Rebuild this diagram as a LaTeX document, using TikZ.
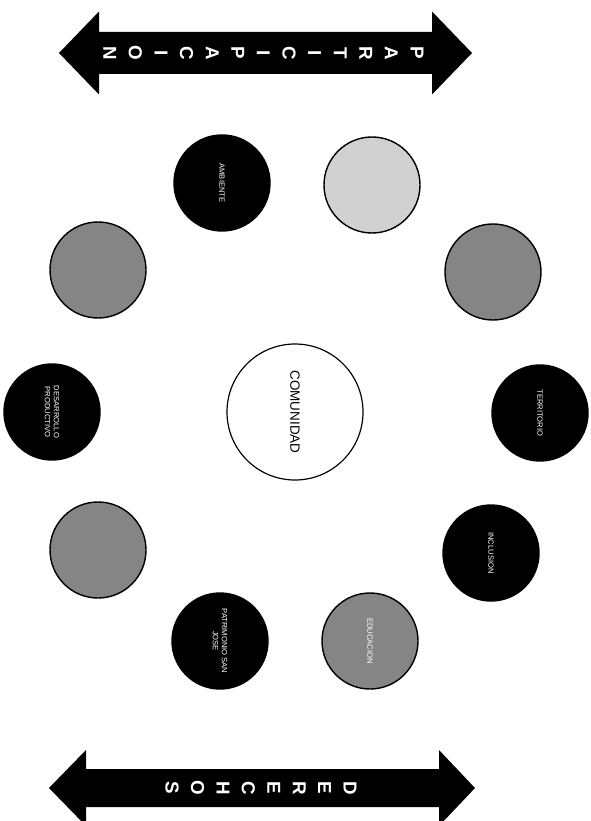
\documentclass[tikz,border=0pt]{standalone}
\usepackage{fontspec}
\setmainfont{Liberation Sans}
\usetikzlibrary{calc}
\definecolor{ink}{rgb}{0,0,0}
\definecolor{trama}{gray}{0.52}
\definecolor{tramaclara}{gray}{0.82}
\tikzset{
  letra/.style={text=white,font=\fontsize{16}{16}\selectfont\bfseries,rotate=-90,inner sep=0pt},
  tema/.style={circle,draw=ink,line width=1.2pt,minimum size=2.88cm,inner sep=0pt,text=white,align=center,rotate=-90,font=\fontsize{6.5}{7.5}\selectfont},
  temaoscuro/.style={tema,fill=ink},
  tematrama/.style={tema,fill=trama},
  temaclaro/.style={tema,fill=tramaclara},
  centro/.style={circle,draw=ink,line width=1pt,minimum size=4.08cm,inner sep=0pt,rotate=-90,font=\fontsize{11.5}{12}\selectfont}
}

\begin{document}
\begin{tikzpicture}[x=0.03cm,y=-0.03cm]
\useasboundingbox (0,0) rectangle (590,821);
% flecha de arriba
\fill[ink] (59,53) -- (99,11.5) -- (99,32) -- (432,32) -- (432,11.5) -- (472,53)
  -- (432,94.5) -- (432,74) -- (99,74) -- (99,94.5) -- cycle;
\foreach \l [count=\i from 0] in {P,A,R,T,I,C,I,P,A,C,I,O,N}
  \node[letra] (p\i) at ({417-25.6*\i},53) {\l};
% flecha de abajo
\fill[ink] (49,788) -- (86,750) -- (86,769) -- (439,769) -- (439,750) -- (475,788)
  -- (439,826) -- (439,807) -- (86,807) -- (86,826) -- cycle;
\foreach \l [count=\i from 0] in {D,E,R,E,C,H,O,S}
  \node[letra] (d\i) at ({350-25.4*\i},788) {\l};
% centro
\node[centro] (com) at (295,412) {COMUNIDAD};
% temas
\node[temaoscuro] (amb) at (222,183) {AMBIENTE};
\node[temaclaro] (cla) at (372,185) {};
\node[tematrama] (tiz) at (98,270) {};
\node[tematrama] (tde) at (493,272) {};
\node[temaoscuro] (des) at (52,412) {DESARROLLO\\PRODUCTIVO};
\node[temaoscuro] (ter) at (540,413) {TERRITORIO};
\node[tematrama] (biz) at (98,550) {};
\node[temaoscuro] (inc) at (491,553) {INCLUSION};
\node[temaoscuro] (pat) at (220,641) {PATRIMONIO SAN\\JOSE};
\node[tematrama] (edu) at (370,641) {EDUCACION};
\end{tikzpicture}
\end{document}
